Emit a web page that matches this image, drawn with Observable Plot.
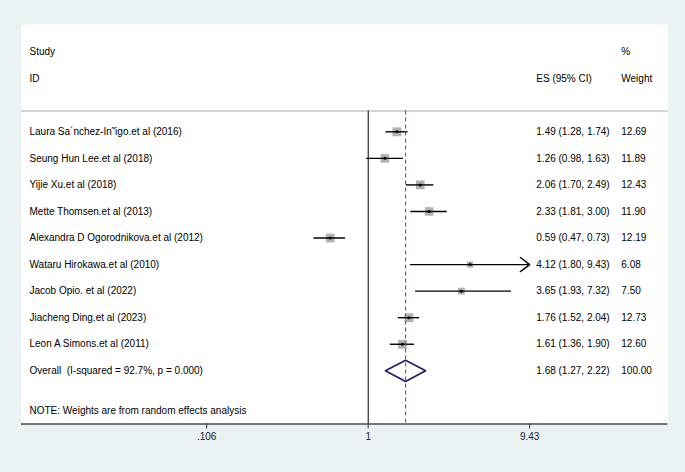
<!DOCTYPE html>
<html><head><meta charset="utf-8">
<script src="https://cdn.jsdelivr.net/npm/d3@7"></script>
<script src="https://cdn.jsdelivr.net/npm/@observablehq/plot@0.6"></script>
<style>
html,body{margin:0;padding:0;background:#eaf2f3;}
</style></head>
<body><div id="chart"></div>
<script>
const studies = [
  "Laura Sa\u00b4nchez-In\u02dcigo.et al (2016)",
  "Seung Hun Lee.et al (2018)",
  "Yijie Xu.et al (2018)",
  "Mette Thomsen.et al (2013)",
  "Alexandra D Ogorodnikova.et al (2012)",
  "Wataru Hirokawa.et al (2010)",
  "Jacob Opio. et al (2022)",
  "Jiacheng Ding.et al (2023)",
  "Leon A Simons.et al (2011)"
];
const es      = [1.49, 1.26, 2.06, 2.33, 0.59, 4.12, 3.65, 1.76, 1.61];
const lo      = [1.28, 0.98, 1.70, 1.81, 0.47, 1.80, 1.93, 1.52, 1.36];
const hi      = [1.74, 1.63, 2.49, 3.00, 0.73, 9.43, 7.32, 2.04, 1.90];
const weights = [12.69, 11.89, 12.43, 11.90, 12.19, 6.08, 7.50, 12.73, 12.60];

const overallLabel = "Overall\u00a0 (I-squared = 92.7%, p = 0.000)";
const overallES = 1.68, overallLo = 1.27, overallHi = 2.22, overallWeight = 100.00;

const tickValues = [0.106, 1, 9.43];
const tickLabels = [".106", "1", "9.43"];
const noteText = "NOTE: Weights are from random effects analysis";

const xMin = 0.106, xMax = 9.43;
const fmt = v => v.toFixed(2);

const rows = studies.map((s, i) => ({
  row: i + 1, label: s, es: es[i], lo: lo[i], hi: hi[i], weight: weights[i],
  esText: `${fmt(es[i])} (${fmt(lo[i])}, ${fmt(hi[i])})`, wText: fmt(weights[i])
}));
const overallRow = studies.length + 1;
const overall = {
  row: overallRow, label: overallLabel, es: overallES, lo: overallLo, hi: overallHi,
  esText: `${fmt(overallES)} (${fmt(overallLo)}, ${fmt(overallHi)})`, wText: fmt(overallWeight)
};
const allRows = [...rows, overall];
const plainRows = rows.filter(d => d.hi < xMax && d.lo > xMin);
const arrowRows = rows.filter(d => d.hi >= xMax);

const dh = 0.4;
const diamond = [
  {x: overallLo, y: overallRow}, {x: overallES, y: overallRow - dh},
  {x: overallHi, y: overallRow}, {x: overallES, y: overallRow + dh},
  {x: overallLo, y: overallRow}
];

const topLine = 0.22, axisRow = 12;
const ticks = tickValues.map((v, i) => ({v, label: tickLabels[i]}));

const chart = Plot.plot({
  width: 685, height: 472,
  marginLeft: 21, marginRight: 17.5, marginTop: 24, marginBottom: 48.6,
  style: {background: "#eaf2f3", fontFamily: "'Liberation Sans', Arial, sans-serif", fontSize: "10px", color: "black"},
  x: {type: "log", domain: [xMin, xMax], range: [206.2, 529.2]},
  y: {domain: [1, 10], range: [131.3, 370.3], axis: null},
  r: {type: "sqrt", domain: [0, 12.69], range: [0, 5.0]},
  marks: [
    Plot.frame({fill: "white", stroke: null}),
    Plot.ruleY([topLine], {stroke: "#d4d4d4", strokeWidth: 2}),
    Plot.ruleX([1], {y1: topLine, y2: axisRow, stroke: "black", strokeWidth: 1}),
    Plot.dot(rows, {x: "es", y: "row", r: "weight", symbol: "square", fill: "#b2b2b2", stroke: null}),
    Plot.ruleY(plainRows, {y: "row", x1: "lo", x2: "hi", stroke: "black", strokeWidth: 1.4}),
    Plot.arrow(arrowRows, {x1: "lo", x2: d => Math.min(d.hi, xMax), y1: "row", y2: "row",
      stroke: "black", strokeWidth: 1.4, headLength: 12.5, headAngle: 74}),
    Plot.dot(rows, {x: "es", y: "row", r: 1.5, fill: "black", stroke: null}),
    Plot.line(diamond, {x: "x", y: "y", stroke: "#1c1c6c", strokeWidth: 1.6, curve: "linear"}),
    Plot.ruleX([overallES], {y1: topLine, y2: axisRow, stroke: "#a44f5c", strokeWidth: 1.2, strokeDasharray: "4,3"}),
    Plot.ruleY([axisRow], {stroke: "#4a4a4a", strokeWidth: 1.5}),
    Plot.axisX({ticks: tickValues, tickFormat: () => "", tickSize: 5, label: null, stroke: "#333"}),
    Plot.text(ticks, {x: "v", text: "label", frameAnchor: "bottom", dy: 16, fill: "#222"}),
    // left column
    Plot.text(allRows, {y: "row", text: "label", frameAnchor: "left", textAnchor: "start", dx: 8, fill: "black"}),
    Plot.text([{row: -2, t: "Study"}, {row: -1, t: "ID"}, {row: 11.5, t: noteText}],
      {y: "row", text: "t", frameAnchor: "left", textAnchor: "start", dx: 8, fill: "black"}),
    // ES column
    Plot.text(allRows, {y: "row", text: "esText", frameAnchor: "right", textAnchor: "start", dx: -131.7, fill: "black"}),
    Plot.text([{row: -1, t: "ES (95% CI)"}], {y: "row", text: "t", frameAnchor: "right", textAnchor: "start", dx: -131.7, fill: "black"}),
    // weight column
    Plot.text(allRows, {y: "row", text: "wText", frameAnchor: "right", textAnchor: "start", dx: -46.7, fill: "black"}),
    Plot.text([{row: -2, t: "%"}, {row: -1, t: "Weight"}], {y: "row", text: "t", frameAnchor: "right", textAnchor: "start", dx: -46.7, fill: "black"})
  ]
});
document.getElementById("chart").appendChild(chart);
</script>
</body></html>
